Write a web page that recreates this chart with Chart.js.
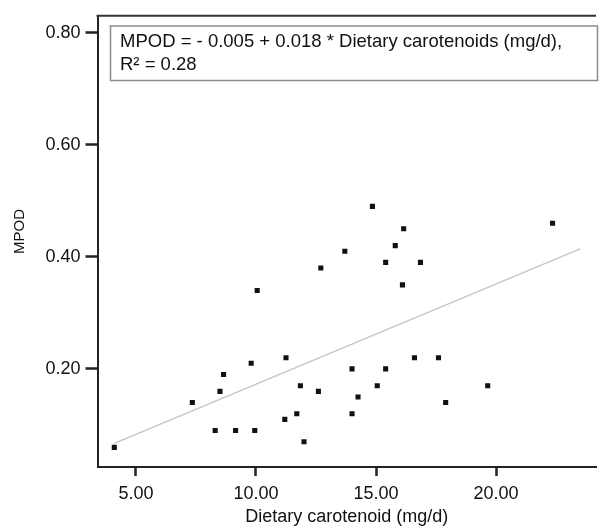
<!DOCTYPE html>
<html>
<head>
<meta charset="utf-8">
<script src="https://cdn.jsdelivr.net/npm/chart.js@4"></script>
<style>
  html, body { margin: 0; padding: 0; background: #fff; overflow: hidden; }
  #wrap { width: 600px; height: 528px; position: relative; }
</style>
</head>
<body>
<div id="wrap"><canvas id="chart" width="600" height="528"></canvas></div>
<script>
// ─── Data ─────────────────────────────────────────────────────────────────────
const carotenoid = [4.1, 7.35, 8.3, 8.5, 8.65, 9.15, 9.8, 9.95, 10.05, 11.2, 11.25, 11.7, 11.85, 12.0, 12.6, 12.7, 13.7,
  14.0, 14.0, 14.25, 14.85, 15.05, 15.4, 15.4, 15.8, 16.1, 16.15, 16.6, 16.85, 17.6, 17.9, 19.65, 22.35];
const mpod = [0.06, 0.14, 0.09, 0.16, 0.19, 0.09, 0.21, 0.09, 0.34, 0.11, 0.22, 0.12, 0.17, 0.07, 0.16, 0.38, 0.41,
  0.20, 0.12, 0.15, 0.49, 0.17, 0.20, 0.39, 0.42, 0.35, 0.45, 0.22, 0.39, 0.22, 0.14, 0.17, 0.46];
const fitX = [4.1, 23.5];
const fitY = [0.067, 0.414];
const xTicks = [5, 10, 15, 20];
const yTicks = [0.2, 0.4, 0.6, 0.8];
const legendLines = ['MPOD = - 0.005 + 0.018 * Dietary carotenoids (mg/d),', 'R\u00B2 = 0.28'];
const yTitle = 'MPOD';

const FONT = '"Liberation Sans", Arial, Helvetica, sans-serif';

// ─── Plugins ──────────────────────────────────────────────────────────────────
const framePlugin = {
  id: 'frame',
  afterDatasetsDraw(chart) {
    const { ctx, chartArea: a } = chart;
    ctx.save();
    // top border of the frame
    ctx.strokeStyle = '#333';
    ctx.lineWidth = 2;
    ctx.beginPath();
    ctx.moveTo(a.left - 1, a.top);
    ctx.lineTo(a.right, a.top);
    ctx.stroke();
    // equation box
    ctx.fillStyle = '#fff';
    ctx.fillRect(110.5, 26, 487, 54.5);
    ctx.strokeStyle = '#8c8c8c';
    ctx.lineWidth = 1.5;
    ctx.strokeRect(110.5, 26, 487, 54.5);
    ctx.fillStyle = '#111';
    ctx.font = '18.5px ' + FONT;
    ctx.textBaseline = 'alphabetic';
    ctx.fillText(legendLines[0], 120, 47);
    ctx.fillText(legendLines[1], 120, 70);
    // y axis title
    ctx.translate(20, 231.5);
    ctx.rotate(-Math.PI / 2);
    ctx.font = '15px ' + FONT;
    ctx.textAlign = 'center';
    ctx.textBaseline = 'middle';
    ctx.fillText(yTitle, 0, 0);
    ctx.restore();
  }
};

// ─── Chart ────────────────────────────────────────────────────────────────────
new Chart(document.getElementById('chart'), {
  type: 'scatter',
  data: {
    datasets: [
      {
        label: 'Fit',
        type: 'line',
        data: fitX.map((x, i) => ({ x, y: fitY[i] })),
        borderColor: '#c4c4c4',
        borderWidth: 1.3,
        pointRadius: 0,
        fill: false
      },
      {
        label: 'MPOD',
        data: carotenoid.map((x, i) => ({ x, y: mpod[i] })),
        pointStyle: 'rect',
        pointRadius: 3.6,
        pointBorderWidth: 0,
        backgroundColor: '#111',
        borderColor: '#111'
      }
    ]
  },
  plugins: [framePlugin],
  options: {
    responsive: false,
    animation: false,
    layout: { padding: { top: 12, right: 0, left: 0, bottom: 0 } },
    plugins: { legend: { display: false }, tooltip: { enabled: false } },
    scales: {
      x: {
        type: 'linear',
        min: 3.4,
        max: 24.16,
        afterFit: s => { s.height = 61; },
        afterBuildTicks: s => { s.ticks = xTicks.map(v => ({ value: v })); },
        border: { color: '#222', width: 2 },
        grid: { drawOnChartArea: false, color: '#222', tickColor: '#222', tickLength: 9, tickWidth: 2.5 },
        ticks: { color: '#111', font: { family: FONT, size: 18 }, padding: 7, callback: v => v.toFixed(2) },
        title: { display: true, text: 'Dietary carotenoid (mg/d)', color: '#111', font: { family: FONT, size: 18 }, padding: { top: 0, bottom: 0 } }
      },
      y: {
        type: 'linear',
        min: 0.025,
        max: 0.83,
        afterFit: s => { s.width = 97.5; },
        afterBuildTicks: s => { s.ticks = yTicks.map(v => ({ value: v })); },
        border: { color: '#222', width: 2 },
        grid: { drawOnChartArea: false, color: '#222', tickColor: '#222', tickLength: 12, tickWidth: 2.5 },
        ticks: { color: '#111', font: { family: FONT, size: 18 }, padding: 5, callback: v => v.toFixed(2) }
      }
    }
  }
});
</script>
</body>
</html>
